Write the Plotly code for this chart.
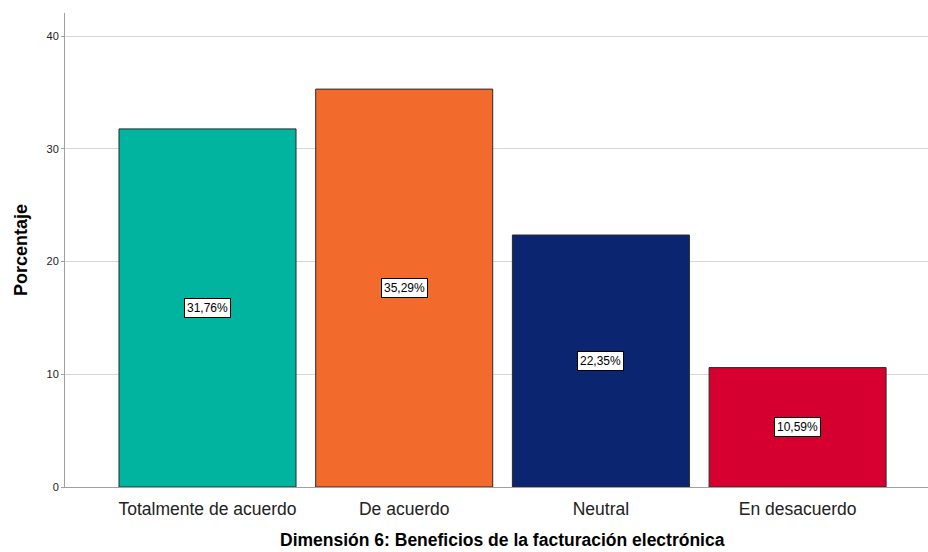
import plotly.graph_objects as go

categorias = ["Totalmente de acuerdo", "De acuerdo", "Neutral", "En desacuerdo"]
porcentajes = [31.76, 35.29, 22.35, 10.59]
colores = ["#00B4A0", "#F36B2C", "#0B2571", "#D5002F"]
ticks_y = [0, 10, 20, 30, 40]

FUENTE = "Liberation Sans, Arial, sans-serif"

fig = go.Figure(
    go.Bar(
        x=list(range(len(categorias))),
        y=porcentajes,
        width=0.9,
        marker=dict(color=colores, line=dict(color="#2a2a2a", width=1)),
        hoverinfo="skip",
    )
)

# Etiquetas de porcentaje con recuadro blanco en el centro de cada barra
for i, v in enumerate(porcentajes):
    fig.add_annotation(
        x=i, y=v / 2,
        text=f"{v:.2f}%".replace(".", ","),
        showarrow=False,
        font=dict(family=FUENTE, size=12, color="#000000"),
        bgcolor="#FFFFFF",
        bordercolor="#000000",
        borderwidth=1,
        borderpad=2,
    )

# Título del eje X
fig.add_annotation(
    xref="paper", yref="paper", x=0.5, y=0,
    xshift=6, yshift=-64,
    xanchor="center", yanchor="bottom",
    borderpad=0,
    text="<b>Dimensión 6: Beneficios de la facturación electrónica</b>",
    showarrow=False,
    font=dict(family=FUENTE, size=17.5, color="#000000"),
)

fig.update_layout(
    width=928, height=552,
    margin=dict(l=65, r=0, t=13, b=65),
    plot_bgcolor="#FFFFFF",
    paper_bgcolor="#FFFFFF",
    showlegend=False,
    font=dict(family=FUENTE),
    xaxis=dict(
        tickmode="array",
        tickvals=list(range(len(categorias))),
        ticktext=categorias,
        range=[-0.7245, 3.663],
        showgrid=False,
        showline=True, linecolor="#A0A0A0", linewidth=1,
        ticks="",
        ticklabelstandoff=6,
        tickfont=dict(family=FUENTE, size=17.5, color="#222222"),
        automargin=False,
        fixedrange=True,
        zeroline=False,
    ),
    yaxis=dict(
        range=[0, 42.04],
        tickvals=ticks_y,
        showgrid=True, gridcolor="#D6D6D6", gridwidth=1,
        showline=True, linecolor="#A0A0A0", linewidth=1,
        ticks="outside", ticklen=3, tickcolor="#A0A0A0",
        tickfont=dict(family=FUENTE, size=11, color="#222222"),
        title=dict(
            text="<b>Porcentaje</b>",
            font=dict(family=FUENTE, size=18, color="#000000"),
            standoff=14,
        ),
        automargin=False,
        zeroline=False,
        fixedrange=True,
    ),
)

fig.write_html("out.html")
